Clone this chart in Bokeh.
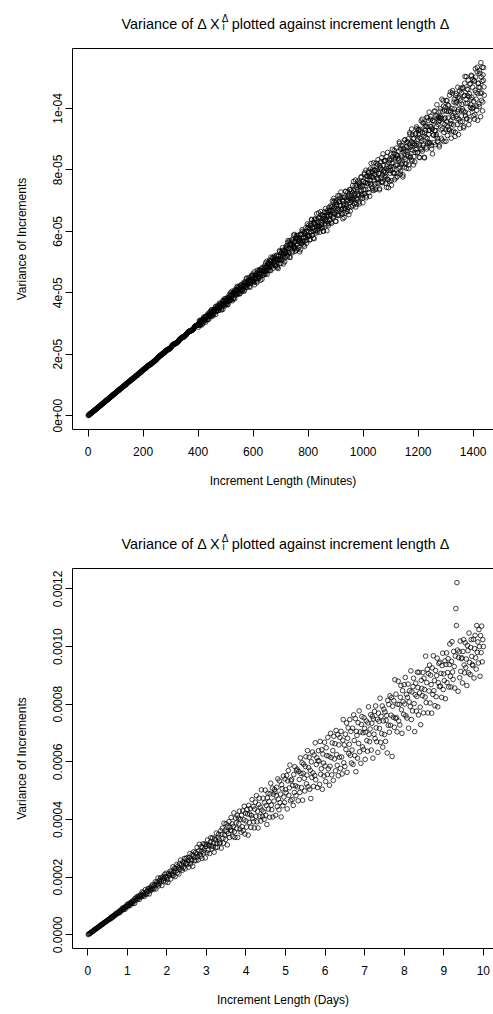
from bokeh.plotting import figure
from bokeh.layouts import column
from bokeh.models import Range1d, FixedTicker, LinearAxis, Label
from bokeh.embed import file_html
from bokeh.resources import INLINE

FONT = "Liberation Sans"

TITLE_MAIN = "Variance of \u0394 X"
TITLE_SUP = "\u0394"
TITLE_SUB = "i"
TITLE_REST = "plotted against increment length \u0394"

# ---------------- top panel: increment length in minutes ----------------
minutes_even_x = list(range(2, 1441, 2))
minutes_odd_x = list(range(1, 1440, 2))
# variance of increments, in units of 1e-7 (even increment lengths)
var_even_e7 = [
    1, 3, 5, 6, 8, 9, 10, 12, 13, 15, 16, 18, 19, 20, 22, 24, 25, 26, 28, 29,
    31, 33, 34, 35, 37, 39, 40, 42, 43, 44, 46, 48, 49, 51, 52, 53, 55, 57, 58, 60,
    61, 62, 63, 65, 67, 69, 70, 71, 72, 74, 76, 78, 79, 80, 81, 83, 85, 87, 88, 89,
    90, 91, 94, 95, 97, 98, 100, 101, 103, 103, 106, 107, 109, 110, 112, 112, 115, 116, 118, 119,
    121, 122, 122, 125, 126, 128, 130, 131, 131, 134, 136, 136, 137, 140, 142, 143, 143, 146, 148, 149,
    150, 152, 154, 155, 156, 157, 159, 161, 163, 164, 164, 166, 166, 168, 169, 171, 172, 173, 175, 177,
    178, 180, 181, 182, 184, 187, 189, 190, 192, 194, 195, 197, 198, 200, 202, 202, 204, 205, 206, 208,
    210, 212, 213, 215, 216, 216, 217, 218, 220, 221, 223, 226, 228, 230, 231, 233, 234, 235, 236, 236,
    237, 238, 240, 241, 245, 247, 249, 250, 252, 254, 255, 256, 257, 258, 258, 260, 261, 263, 266, 268,
    270, 272, 274, 275, 276, 276, 277, 277, 279, 280, 281, 283, 287, 290, 292, 293, 294, 294, 295, 297,
    299, 294, 307, 305, 294, 306, 311, 306, 302, 315, 322, 313, 311, 318, 324, 312, 323, 328, 313, 330,
    326, 337, 327, 343, 334, 329, 340, 328, 345, 343, 342, 356, 339, 351, 345, 358, 342, 354, 361, 351,
    362, 348, 360, 363, 346, 374, 363, 374, 362, 381, 366, 372, 383, 362, 381, 377, 387, 374, 400, 381,
    394, 374, 399, 397, 383, 406, 399, 393, 399, 417, 410, 396, 403, 417, 412, 398, 417, 426, 409, 419,
    411, 428, 423, 408, 436, 420, 433, 418, 448, 430, 436, 442, 420, 442, 430, 440, 456, 437, 456, 443,
    438, 468, 436, 457, 447, 456, 433, 466, 455, 450, 474, 451, 472, 460, 478, 444, 471, 470, 457, 480,
    488, 472, 462, 485, 503, 475, 488, 474, 495, 506, 488, 472, 504, 497, 489, 512, 499, 519, 492, 509,
    488, 507, 521, 482, 507, 518, 506, 537, 496, 521, 507, 529, 538, 517, 494, 527, 539, 515, 529, 551,
    547, 522, 564, 545, 532, 516, 561, 555, 548, 572, 530, 565, 555, 549, 590, 546, 566, 581, 539, 578,
    559, 587, 548, 578, 570, 540, 590, 562, 605, 569, 582, 556, 596, 568, 592, 612, 561, 587, 610, 585,
    620, 587, 606, 573, 618, 637, 587, 610, 601, 630, 576, 625, 641, 602, 616, 637, 598, 630, 660, 616,
    597, 634, 664, 621, 611, 652, 632, 601, 649, 664, 626, 637, 661, 602, 652, 661, 625, 678, 636, 655,
    668, 630, 680, 699, 661, 649, 697, 659, 674, 633, 694, 687, 653, 716, 672, 653, 697, 709, 684, 672,
    659, 702, 641, 689, 711, 676, 659, 730, 687, 705, 672, 727, 700, 654, 719, 694, 736, 680, 716, 705,
    750, 708, 732, 690, 723, 767, 707, 688, 750, 735, 717, 759, 689, 750, 733, 775, 717, 749, 708, 762,
    736, 785, 723, 759, 799, 715, 779, 755, 737, 791, 777, 714, 803, 753, 778, 795, 739, 775, 823, 767,
    799, 755, 738, 792, 813, 772, 833, 756, 789, 739, 808, 826, 775, 801, 761, 852, 795, 776, 829, 791,
    756, 805, 843, 769, 798, 742, 822, 835, 789, 811, 765, 835, 867, 802, 789, 853, 768, 835, 816, 850,
    846, 778, 836, 861, 804, 886, 826, 796, 880, 818, 842, 777, 870, 860, 809, 898, 835, 821, 889, 858,
    850, 901, 804, 884, 916, 844, 866, 933, 829, 886, 901, 843, 885, 826, 917, 866, 940, 885, 857, 931,
    931, 881, 840, 926, 902, 866, 965, 921, 880, 952, 841, 920, 946, 906, 868, 940, 969, 891, 916, 988,
    886, 942, 974, 879, 936, 852, 961, 914, 990, 928, 882, 976, 915, 1012, 903, 948, 969, 881, 961, 991,
    972, 903, 1030, 934, 951, 1007, 892, 994, 969, 931, 1026, 957, 912, 1011, 990, 932, 1043, 951, 988, 903,
    949, 1050, 977, 926, 1021, 998, 909, 1042, 974, 1021, 948, 1069, 996, 965, 1056, 935, 1027, 992, 1050, 957,
    1068, 992, 942, 1042, 1104, 976, 1030, 966, 1063, 1017, 1092, 947, 1048, 1079, 1003, 1030, 1105, 999, 1069, 976,
    1023, 1090, 980, 1129, 1052, 1008, 1120, 961, 1081, 1069, 1006, 1114, 1050, 1149, 1026, 1088, 992, 1109, 1133, 1043,
]
# variance of increments, in units of 1e-7 (odd increment lengths)
var_odd_e7 = [
    1, 2, 4, 5, 7, 8, 10, 11, 12, 14, 15, 17, 18, 20, 21, 23, 24, 26, 27, 29,
    30, 31, 33, 35, 36, 38, 39, 40, 42, 43, 45, 47, 48, 49, 51, 52, 54, 55, 57, 58,
    60, 61, 63, 65, 66, 67, 69, 71, 72, 73, 75, 76, 78, 80, 81, 82, 84, 86, 87, 88,
    89, 91, 93, 94, 95, 97, 99, 100, 101, 103, 105, 106, 107, 109, 111, 112, 113, 115, 116, 118,
    118, 121, 122, 124, 124, 127, 128, 130, 131, 131, 134, 136, 137, 138, 139, 142, 143, 143, 146, 148,
    149, 151, 153, 153, 155, 155, 158, 160, 161, 162, 164, 165, 165, 167, 169, 171, 171, 173, 175, 177,
    178, 178, 181, 182, 183, 185, 188, 189, 190, 193, 194, 196, 196, 198, 200, 201, 202, 204, 204, 207,
    208, 210, 212, 214, 215, 215, 215, 217, 219, 220, 222, 225, 227, 229, 231, 232, 233, 233, 234, 235,
    236, 238, 239, 241, 243, 246, 248, 250, 251, 253, 254, 254, 256, 257, 256, 259, 261, 262, 264, 266,
    269, 271, 273, 273, 274, 276, 276, 276, 278, 279, 280, 283, 285, 289, 291, 292, 293, 293, 294, 296,
    288, 301, 310, 299, 297, 311, 305, 297, 312, 318, 307, 312, 320, 304, 319, 324, 313, 331, 319, 326,
    323, 338, 322, 333, 345, 323, 341, 336, 332, 347, 345, 329, 354, 342, 350, 355, 342, 352, 366, 352,
    353, 366, 344, 364, 373, 357, 363, 380, 357, 371, 377, 363, 375, 361, 385, 373, 393, 380, 375, 394,
    381, 405, 390, 380, 402, 398, 380, 410, 396, 408, 393, 421, 406, 400, 421, 396, 417, 411, 425, 405,
    408, 422, 432, 405, 423, 431, 423, 446, 417, 435, 426, 442, 449, 434, 418, 442, 451, 434, 445, 461,
    433, 455, 426, 450, 461, 445, 438, 473, 453, 462, 447, 474, 462, 441, 473, 461, 482, 457, 474, 471,
    461, 482, 497, 469, 481, 460, 493, 499, 481, 492, 473, 503, 516, 492, 487, 514, 480, 507, 501, 515,
    487, 509, 522, 487, 510, 479, 521, 504, 534, 511, 495, 531, 509, 547, 507, 525, 534, 501, 532, 545,
    530, 554, 517, 570, 544, 530, 569, 515, 558, 555, 534, 572, 551, 587, 544, 567, 535, 577, 586, 555,
    573, 542, 566, 572, 533, 590, 565, 588, 560, 600, 566, 577, 598, 551, 591, 580, 599, 571, 624, 582,
    613, 585, 572, 610, 625, 598, 639, 588, 610, 578, 624, 638, 602, 622, 594, 657, 618, 607, 642, 617,
    616, 645, 613, 654, 628, 611, 641, 600, 650, 641, 635, 674, 620, 653, 633, 668, 618, 651, 667, 636,
    683, 651, 626, 680, 667, 644, 707, 680, 655, 700, 632, 681, 699, 673, 651, 696, 716, 666, 683, 728,
    672, 711, 656, 698, 685, 645, 711, 674, 730, 681, 698, 664, 715, 678, 709, 736, 666, 702, 731, 698,
    725, 683, 762, 703, 715, 749, 679, 743, 728, 705, 764, 722, 695, 756, 744, 709, 778, 722, 745, 693,
    763, 721, 790, 758, 736, 709, 780, 769, 757, 796, 726, 783, 766, 755, 821, 747, 780, 802, 733, 798,
    784, 735, 798, 822, 773, 757, 818, 769, 788, 735, 813, 803, 760, 839, 783, 758, 814, 829, 797, 781,
    830, 777, 743, 813, 857, 768, 806, 762, 830, 798, 851, 750, 821, 843, 791, 810, 863, 789, 839, 774,
    871, 815, 845, 789, 832, 891, 809, 786, 867, 846, 822, 878, 783, 865, 840, 897, 818, 861, 805, 876,
    892, 844, 816, 873, 921, 840, 875, 833, 891, 915, 864, 816, 903, 881, 857, 917, 880, 934, 856, 900,
    916, 841, 905, 932, 870, 959, 894, 861, 953, 885, 910, 839, 941, 929, 874, 971, 902, 886, 961, 928,
    929, 889, 965, 941, 868, 932, 960, 913, 889, 957, 992, 927, 910, 941, 976, 892, 957, 973, 875, 968,
    999, 930, 967, 897, 989, 1025, 922, 966, 948, 1004, 893, 991, 1025, 940, 969, 1009, 929, 993, 1053, 960,
    924, 1000, 1058, 970, 946, 1030, 986, 922, 1018, 1048, 967, 990, 1036, 915, 1014, 1033, 956, 1065, 975, 1013,
    998, 1064, 937, 1041, 1082, 988, 1016, 1103, 967, 1042, 1061, 984, 1038, 962, 1080, 1012, 1108, 1036, 1000, 1095,
    1004, 1089, 965, 1059, 1102, 1030, 994, 1134, 1048, 1082, 1014, 1122, 1068, 973, 1103, 1050, 1134, 1021, 1091, 1070,
]
min_xticks = [0, 200, 400, 600, 800, 1000, 1200, 1400]
min_yticks = [0.0, 2e-05, 4e-05, 6e-05, 8e-05, 1e-04]
min_ylabels = ["0e+00", "2e-05", "4e-05", "6e-05", "8e-05", "1e-04"]

# ---------------- bottom panel: increment length in days ----------------
days_x = [j / 72 for j in range(1, 721)]
# variance of increments, in units of 1e-6
var_day_e6 = [
    1, 3, 4, 5, 7, 8, 10, 11, 12, 14, 15, 17, 18, 20, 21, 22, 23, 25, 27, 28,
    29, 30, 32, 34, 35, 36, 37, 39, 41, 42, 43, 45, 46, 47, 48, 50, 52, 53, 54, 55,
    58, 56, 62, 62, 60, 64, 67, 66, 66, 70, 74, 72, 73, 75, 78, 75, 80, 83, 78, 84,
    84, 90, 86, 94, 90, 89, 95, 89, 99, 98, 99, 106, 98, 105, 102, 110, 102, 109, 113, 109,
    117, 109, 116, 120, 109, 126, 120, 128, 121, 133, 124, 129, 135, 123, 135, 133, 140, 132, 149, 138,
    146, 138, 133, 145, 157, 141, 150, 142, 155, 161, 151, 142, 162, 158, 154, 168, 161, 174, 158, 169,
    162, 174, 184, 159, 176, 183, 175, 197, 170, 187, 178, 193, 199, 186, 171, 194, 201, 187, 196, 210,
    202, 184, 214, 201, 192, 182, 213, 209, 205, 221, 194, 218, 212, 207, 236, 206, 220, 231, 202, 230,
    223, 244, 215, 238, 232, 211, 247, 227, 259, 232, 243, 224, 253, 233, 251, 265, 229, 248, 265, 248,
    268, 245, 258, 235, 268, 282, 246, 262, 257, 278, 238, 275, 288, 258, 270, 285, 257, 281, 303, 271,
    260, 291, 314, 280, 272, 305, 289, 265, 303, 316, 285, 294, 314, 267, 307, 314, 285, 329, 294, 310,
    312, 282, 322, 337, 308, 298, 336, 307, 318, 287, 335, 329, 303, 353, 317, 304, 338, 349, 329, 319,
    319, 361, 301, 349, 370, 335, 318, 387, 346, 363, 331, 385, 358, 312, 377, 351, 393, 338, 373, 363,
    407, 361, 385, 341, 376, 423, 358, 338, 405, 388, 368, 414, 338, 405, 385, 429, 367, 401, 356, 415,
    375, 430, 361, 399, 446, 350, 422, 395, 374, 435, 419, 346, 449, 390, 419, 438, 373, 414, 469, 404,
    445, 392, 371, 436, 460, 411, 483, 392, 429, 371, 452, 474, 411, 443, 395, 503, 433, 411, 474, 427,
    401, 458, 502, 415, 449, 383, 475, 491, 436, 463, 408, 489, 526, 450, 434, 509, 409, 488, 464, 504,
    496, 415, 483, 512, 445, 541, 471, 434, 534, 459, 488, 409, 521, 507, 448, 551, 478, 459, 541, 504,
    493, 553, 437, 534, 570, 484, 510, 589, 465, 534, 539, 469, 518, 449, 556, 494, 583, 517, 483, 571,
    575, 513, 465, 567, 539, 494, 614, 560, 511, 597, 467, 561, 592, 543, 499, 584, 618, 524, 554, 639,
    514, 580, 616, 505, 571, 473, 600, 546, 634, 562, 515, 624, 553, 666, 538, 591, 614, 511, 604, 639,
    603, 522, 671, 557, 576, 642, 505, 627, 596, 551, 668, 586, 532, 649, 622, 556, 685, 576, 620, 519,
    585, 699, 615, 555, 666, 639, 536, 689, 610, 663, 569, 709, 625, 588, 694, 552, 659, 616, 685, 577,
    706, 617, 558, 675, 747, 597, 659, 584, 696, 643, 735, 564, 682, 718, 629, 661, 747, 623, 706, 596,
    641, 717, 591, 763, 674, 622, 750, 566, 706, 692, 613, 736, 664, 777, 635, 704, 595, 730, 757, 652,
    701, 643, 753, 716, 609, 703, 742, 674, 637, 735, 791, 695, 670, 714, 764, 641, 734, 758, 613, 749,
    696, 775, 681, 794, 718, 670, 748, 633, 769, 741, 716, 821, 668, 758, 698, 794, 651, 742, 783, 695,
    773, 671, 744, 761, 631, 813, 727, 799, 703, 829, 727, 762, 823, 619, 793, 755, 812, 720, 885, 751,
    835, 753, 704, 800, 880, 742, 799, 728, 824, 865, 781, 699, 847, 809, 765, 868, 801, 893, 760, 834,
    752, 824, 870, 717, 808, 847, 792, 916, 747, 843, 777, 861, 890, 802, 705, 833, 873, 776, 827, 911,
    858, 763, 911, 839, 790, 729, 883, 855, 830, 910, 770, 890, 851, 825, 967, 806, 875, 921, 770, 906,
    846, 936, 804, 901, 868, 769, 926, 834, 968, 847, 882, 795, 917, 826, 899, 960, 791, 875, 942, 861,
    946, 863, 907, 824, 934, 977, 851, 905, 882, 950, 819, 938, 978, 875, 910, 958, 860, 938, 1009, 897,
    860, 948, 1017, 912, 886, 983, 931, 856, 967, 1132, 1073, 1222, 988, 845, 962, 982, 892, 1019, 914, 958,
    961, 874, 983, 1024, 936, 909, 1013, 927, 957, 865, 1004, 986, 909, 1047, 945, 903, 997, 1024, 966, 938,
    934, 1025, 891, 993, 1039, 961, 922, 1073, 980, 1016, 943, 1059, 1000, 897, 1038, 979, 1071, 947, 1024, 1000,
]
day_xticks = [0, 1, 2, 3, 4, 5, 6, 7, 8, 9, 10]
day_yticks = [0.0, 0.0002, 0.0004, 0.0006, 0.0008, 0.0010, 0.0012]
day_ylabels = ["0.0000", "0.0002", "0.0004", "0.0006", "0.0008", "0.0010", "0.0012"]

assert len(var_even_e7) == len(minutes_even_x), len(var_even_e7)
assert len(var_odd_e7) == len(minutes_odd_x), len(var_odd_e7)
assert len(var_day_e6) == len(days_x), len(var_day_e6)

min_x = minutes_odd_x + minutes_even_x
min_y = [v * 1e-7 for v in var_odd_e7 + var_even_e7]
day_y = [v * 1e-6 for v in var_day_e6]

FRAME_LEFT = 72


def title_strip(height):
    t = figure(width=493, height=height, output_backend="svg", toolbar_location=None,
               title=None, x_axis_type=None, y_axis_type=None, min_border=0,
               x_range=Range1d(0, 493), y_range=Range1d(0, height))
    t.outline_line_color = None
    t.background_fill_color = "white"
    t.border_fill_color = "white"
    by = height - 23.5 if height < 45 else height - 36.5
    common = dict(x_units="screen", y_units="screen", text_font=FONT,
                  text_color="black", text_align="left", text_baseline="alphabetic")
    # the strip's frame is aligned with the plot frame below it (left edge at FRAME_LEFT)
    t.add_layout(Label(x=121.0 - FRAME_LEFT, y=by, text=TITLE_MAIN,
                       text_font_size="14.4px", **common))
    t.add_layout(Label(x=221.3 - FRAME_LEFT, y=by + 6.0, text=TITLE_SUP,
                       text_font_size="10px", **common))
    t.add_layout(Label(x=222.0 - FRAME_LEFT, y=by - 2.5, text=TITLE_SUB,
                       text_font_size="10px", **common))
    t.add_layout(Label(x=231.3 - FRAME_LEFT, y=by, text=TITLE_REST,
                       text_font_size="14.4px", **common))
    return t


def panel(xs, ys, xr, yr, xticks, yticks, ylabels, xlabel, border_bottom, frame_h):
    border_top = 8
    p = figure(width=493, height=border_top + frame_h + border_bottom,
               output_backend="svg", toolbar_location=None, title=None,
               x_range=Range1d(*xr), y_range=Range1d(*yr),
               min_border_left=FRAME_LEFT, min_border_right=0,
               min_border_top=border_top, min_border_bottom=border_bottom)
    p.background_fill_color = "white"
    p.border_fill_color = "white"
    p.outline_line_color = None
    p.xgrid.visible = False
    p.ygrid.visible = False

    p.scatter(xs, ys, marker="circle", size=4.6, fill_color=None,
              line_color="black", line_width=0.75)

    for ax in (p.xaxis[0], p.yaxis[0]):
        ax.axis_line_color = "black"
        ax.axis_line_width = 1
        ax.major_tick_line_color = "black"
        ax.major_tick_in = 0
        ax.major_tick_out = 7
        ax.minor_tick_line_color = None
        ax.major_label_text_font = FONT
        ax.major_label_text_font_size = "12px"
        ax.major_label_text_color = "black"
        ax.axis_label_text_font = FONT
        ax.axis_label_text_font_size = "12px"
        ax.axis_label_text_font_style = "normal"
        ax.axis_label_text_color = "black"

    p.xaxis.ticker = FixedTicker(ticks=xticks)
    p.xaxis.axis_label = xlabel
    p.xaxis.major_label_standoff = 10
    p.xaxis.axis_label_standoff = 15

    p.yaxis.ticker = FixedTicker(ticks=yticks)
    p.yaxis.major_label_overrides = dict(zip(yticks, ylabels))
    p.yaxis.major_label_orientation = "vertical"
    p.yaxis.major_label_standoff = 3
    p.yaxis.axis_label = "Variance of Increments"
    p.yaxis.axis_label_standoff = 22

    top = LinearAxis(ticker=FixedTicker(ticks=[]), axis_line_color="black",
                     major_tick_line_color=None, minor_tick_line_color=None,
                     major_tick_out=0, major_tick_in=0, major_label_standoff=0,
                     major_label_text_font_size="0px")
    p.add_layout(top, "above")
    return p


t1 = title_strip(40)
p1 = panel(min_x, min_y, (-56.6, 1473.8), (-4.5e-06, 1.195e-04),
           min_xticks, min_yticks, min_ylabels, "Increment Length (Minutes)",
           78, 381)
t2 = title_strip(53)
p2 = panel(days_x, day_y, (-0.3855, 10.257), (-4.74e-05, 1.2709e-03),
           day_xticks, day_yticks, day_ylabels, "Increment Length (Days)",
           66, 380)

layout = column(t1, p1, t2, p2, spacing=0)
open("out.html", "w").write(file_html(layout, INLINE))
